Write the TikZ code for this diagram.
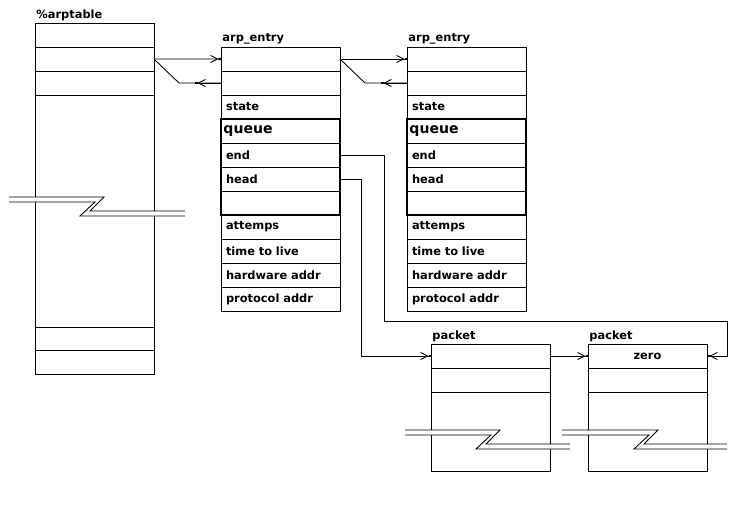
\documentclass[tikz,border=0pt]{standalone}
\usepackage{fontspec}
\setmainfont{DejaVu Sans}
\usetikzlibrary{positioning}
\usetikzlibrary{arrows.meta}

% broken-off part of a long box: x start, corner x, y, x end
\newcommand{\zbreak}[4]{%
\fill[white] (#1,#3)--(#2,#3)--(#2-14,#3+14)--(#4,#3+14)--(#4,#3+19)--(#2-24,#3+19)--(#2-9,#3+5)--(#1,#3+5)--cycle;
\draw (#1,#3)--(#2,#3)--(#2-14,#3+14)--(#4,#3+14);
\draw (#1,#3+5)--(#2-9,#3+5)--(#2-24,#3+19)--(#4,#3+19);
}

\begin{document}
\begin{tikzpicture}[x=0.02cm, y=-0.02cm, line width=0.5pt,
  cell/.style={draw, rectangle, minimum width=2.38cm, minimum height=0.48cm,
    inner xsep=0.1cm, inner ysep=0pt, outer sep=0pt, text width=2.18cm, align=left,
    font=\fontsize{6.5}{7.5}\selectfont\bfseries},
  tall/.style={cell, minimum height=#1},
  qcell/.style={cell, inner xsep=0.05cm, text width=2.28cm,
    font=\fontsize{8}{9}\selectfont\bfseries},
  title/.style={inner sep=0pt, font=\fontsize{6.5}{7.5}\selectfont\bfseries},
  group/.style={draw, line width=1.3pt},
  ptr/.style={-{Straight Barb[length=4pt,width=4pt]Square[length=1.4pt,width=1.4pt]}}]

\useasboundingbox (0,0) rectangle (752,524);

% arptable
\node[cell, anchor=north west] (tab1) at (35,23) {};
\node[cell, below=0pt of tab1] (tab2) {};
\node[cell, below=0pt of tab2] (tab3) {};
\node[tall=4.64cm, below=0pt of tab3] (tabmid) {};
\node[cell, below=0pt of tabmid] (tab4) {};
\node[cell, below=0pt of tab4] (tab5) {};
\node[title, above right=0.04cm and 0.02cm of tab1.north west] (tabname) {\%arptable};

% first arp_entry
\node[cell, anchor=north west] (ent1a) at (221,47) {};
\node[cell, below=0pt of ent1a] (ent1b) {};
\node[cell, below=0pt of ent1b] (ent1state) {state};
\node[qcell, below=0pt of ent1state] (ent1queue) {queue};
\node[cell, below=0pt of ent1queue] (ent1end) {end};
\node[cell, below=0pt of ent1end] (ent1head) {head};
\node[cell, below=0pt of ent1head] (ent1blank) {};
\node[cell, below=0pt of ent1blank] (ent1att) {attemps};
\node[cell, below=0pt of ent1att] (ent1ttl) {time to live};
\node[cell, below=0pt of ent1ttl] (ent1hw) {hardware addr};
\node[cell, below=0pt of ent1hw] (ent1proto) {protocol addr};
\draw[group] (ent1queue.north west) rectangle (ent1blank.south east);
\node[title, above right=0.04cm and 0.02cm of ent1a.north west] (ent1name) {arp\_entry};

% second arp_entry
\node[cell, anchor=north west] (ent2a) at (407,47) {};
\node[cell, below=0pt of ent2a] (ent2b) {};
\node[cell, below=0pt of ent2b] (ent2state) {state};
\node[qcell, below=0pt of ent2state] (ent2queue) {queue};
\node[cell, below=0pt of ent2queue] (ent2end) {end};
\node[cell, below=0pt of ent2end] (ent2head) {head};
\node[cell, below=0pt of ent2head] (ent2blank) {};
\node[cell, below=0pt of ent2blank] (ent2att) {attemps};
\node[cell, below=0pt of ent2att] (ent2ttl) {time to live};
\node[cell, below=0pt of ent2ttl] (ent2hw) {hardware addr};
\node[cell, below=0pt of ent2hw] (ent2proto) {protocol addr};
\draw[group] (ent2queue.north west) rectangle (ent2blank.south east);
\node[title, above right=0.04cm and 0.02cm of ent2a.north west] (ent2name) {arp\_entry};

% packets
\node[cell, anchor=north west] (pkt1a) at (431,344) {};
\node[cell, below=0pt of pkt1a] (pkt1b) {};
\node[tall=1.58cm, below=0pt of pkt1b] (pkt1c) {};
\node[title, above right=0.04cm and 0.02cm of pkt1a.north west] (pkt1name) {packet};

\node[cell, align=center, anchor=north west] (pkt2a) at (588,344) {zero};
\node[cell, below=0pt of pkt2a] (pkt2b) {};
\node[tall=1.58cm, below=0pt of pkt2b] (pkt2c) {};
\node[title, above right=0.04cm and 0.02cm of pkt2a.north west] (pkt2name) {packet};

% links
\draw[ptr] (tab2.east) -- (ent1a.west);
\draw[ptr] (ent1b.west) -- ++(-26,0);
\draw (ent1b.west) -- ++(-42,0) -- (tab2.east);

\draw[ptr] (ent1a.east) -- (ent2a.west);
\draw[ptr] (ent2b.west) -- ++(-26,0);
\draw (ent2b.west) -- ++(-42,0) -- (ent1a.east);

\draw[ptr] (ent1head.east) -- ++(21,0) |- (pkt1a.west);
\draw[ptr] (pkt1a.east) -- (pkt2a.west);
\coordinate (turn) at (727,321);
\draw[ptr] (ent1end.east) -- ++(44,0) |- (turn) |- (pkt2a.east);

% breaks
\zbreak{9}{104}{197}{185}
\zbreak{405}{500}{430}{570}
\zbreak{562}{658}{430}{727}

\end{tikzpicture}
\end{document}
